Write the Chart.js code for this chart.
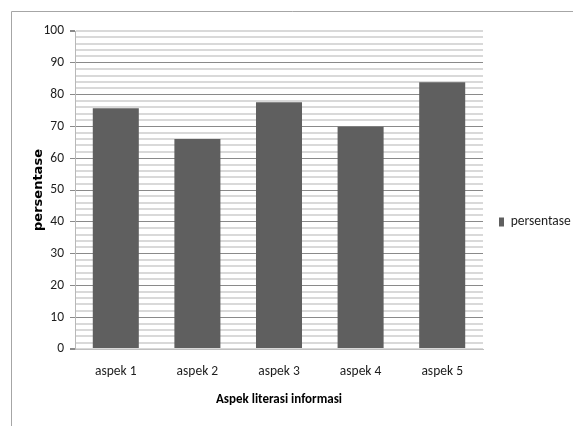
<!DOCTYPE html>
<html>
<head>
<meta charset="utf-8">
<script src="https://cdn.jsdelivr.net/npm/chart.js@4.4.1/dist/chart.umd.min.js"></script>
<style>
    html, body { margin: 0; padding: 0; background: #fff; }
    #wrap { width: 573px; height: 426px; }
</style>
</head>
<body>
<div id="wrap"><canvas id="aspekChart" width="573" height="426"></canvas></div>
<script>
const categories = ['aspek 1', 'aspek 2', 'aspek 3', 'aspek 4', 'aspek 5'];
const persentase = [75.7, 66.0, 77.6, 69.9, 83.9];
const yMin = 0;
const yMax = 100;
const yMinorStep = 2;
const yLabelStep = 10;

const CALIBRI = "Carlito, 'Liberation Sans', sans-serif";

// frame lines like the original chart border (top + left)
const framePlugin = {
    id: 'frame',
    beforeDraw(chart) {
        const c = chart.ctx;
        c.save();
        c.fillStyle = '#ffffff';
        c.fillRect(0, 0, chart.width, chart.height);
        c.strokeStyle = '#a6a6a6';
        c.lineWidth = 1;
        c.beginPath();
        c.moveTo(11.5, chart.height);
        c.lineTo(11.5, 11.5);
        c.lineTo(chart.width, 11.5);
        c.stroke();
        c.restore();
    }
};

const isMajor = (v) => v % yLabelStep === 0 && v !== yMin && v !== yMax;

new Chart(document.getElementById('aspekChart'), {
    type: 'bar',
    data: {
        labels: categories,
        datasets: [{
            label: 'persentase',
            data: persentase,
            backgroundColor: '#5f5f5f',
            borderWidth: 0,
            categoryPercentage: 0.564,
            barPercentage: 1
        }]
    },
    options: {
        responsive: false,
        animation: false,
        layout: { padding: { top: 31, right: 0, bottom: 13, left: 0 } },
        plugins: {
            tooltip: { enabled: false },
            legend: {
                position: 'right',
                maxWidth: 90,
                labels: {
                    boxWidth: 5,
                    boxHeight: 9,
                    padding: 16,
                    color: '#1e1e1e',
                    font: { family: CALIBRI, size: 13.5 }
                }
            }
        },
        scales: {
            x: {
                grid: { display: false, drawTicks: false },
                border: { color: '#c0c0c0', width: 1 },
                ticks: { color: '#1e1e1e', padding: 15, font: { family: CALIBRI, size: 13.5 } },
                title: {
                    display: true,
                    text: 'Aspek literasi informasi',
                    color: '#000',
                    font: { family: CALIBRI, size: 13, weight: 'bold' },
                    padding: { top: 0, bottom: 5 }
                },
                afterFit(scale) { scale.height = 64; }
            },
            y: {
                min: yMin,
                max: yMax,
                border: { color: '#b8b8b8', width: 1 },
                grid: {
                    color: (ctx) => isMajor(ctx.tick.value) ? '#8a8a8a' : '#d9d9d9',
                    lineWidth: (ctx) => isMajor(ctx.tick.value) ? 1 : 2,
                    tickColor: (ctx) => ctx.tick.value % yLabelStep === 0 ? '#8a8a8a' : 'rgba(0,0,0,0)',
                    tickLength: 5
                },
                ticks: {
                    stepSize: yMinorStep,
                    autoSkip: false,
                    padding: 6,
                    color: '#1e1e1e',
                    font: { family: CALIBRI, size: 13.5 },
                    callback: (v) => v % yLabelStep === 0 ? v : ''
                },
                title: {
                    display: true,
                    text: 'persentase',
                    color: '#000',
                    font: { family: "'DejaVu Sans', sans-serif", size: 13, weight: 'bold' },
                    padding: { top: 31, bottom: 0 }
                },
                afterFit(scale) { scale.width = 75; }
            }
        }
    },
    plugins: [framePlugin]
});
</script>
</body>
</html>
